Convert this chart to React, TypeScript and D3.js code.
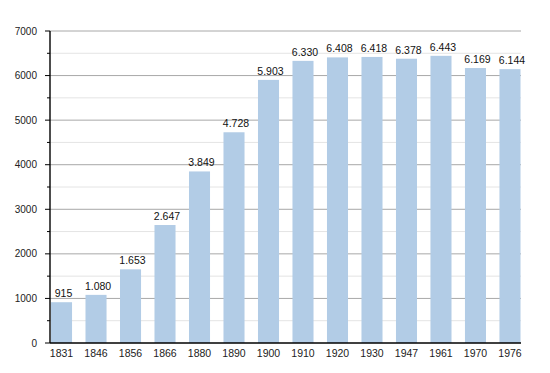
import React from "react";
import * as d3 from "d3";

// years and population counts
const years = ["1831", "1846", "1856", "1866", "1880", "1890", "1900", "1910", "1920", "1930", "1947", "1961", "1970", "1976"];
const population = [915, 1080, 1653, 2647, 3849, 4728, 5903, 6330, 6408, 6418, 6378, 6443, 6169, 6144];
const yMajorTicks = [0, 1000, 2000, 3000, 4000, 5000, 6000, 7000];
const yMinorTicks = [500, 1500, 2500, 3500, 4500, 5500, 6500];

export default function App() {
  const width = 550,
    height = 373;
  const left = 50,
    right = 521,
    top = 31,
    bottom = 343;

  const xScale = d3
    .scaleBand<string>()
    .domain(years)
    .range([51, 520.5])
    .paddingInner(0.39)
    .paddingOuter(0);

  const yScale = d3.scaleLinear().domain([0, 7000]).range([bottom, top]);

  // 1.653 style
  const fmt = (v: number) => d3.format(",")(v).replace(/,/g, ".");

  const font = "Liberation Sans, Arial, sans-serif";

  return (
    <svg
      width={width}
      height={height}
      style={{ position: "absolute", left: 0, top: 0, background: "#fff" }}
      fontFamily={font}
    >
      {/* minor grid */}
      <g>
        {yMinorTicks.map((t) => (
          <g key={t}>
            <line x1={left} x2={right} y1={yScale(t)} y2={yScale(t)} stroke="#e4e4e4" />
            <line x1={left - 3} x2={left} y1={yScale(t)} y2={yScale(t)} stroke="#000" />
          </g>
        ))}
      </g>
      {/* major grid */}
      <g>
        {yMajorTicks.map((t) => (
          <g key={t}>
            {t > 0 && <line x1={left} x2={right} y1={yScale(t)} y2={yScale(t)} stroke="#a8a8a8" />}
            <line x1={left - 5} x2={left} y1={yScale(t)} y2={yScale(t)} stroke="#000" />
            <text
              x={left - 13}
              y={yScale(t)}
              textAnchor="end"
              dominantBaseline="central"
              fontSize="10"
              fill="#222"
            >
              {t}
            </text>
          </g>
        ))}
      </g>

      {/* bars */}
      <g>
        {population.map((v, i) => {
          const x = xScale(years[i])!;
          return (
            <g key={years[i]}>
              <rect
                x={x}
                y={yScale(v)}
                width={xScale.bandwidth()}
                height={bottom - yScale(v)}
                fill="#b2cce6"
              />
              <text
                x={x + xScale.bandwidth() / 2 + 2}
                y={yScale(v) - 5}
                textAnchor="middle"
                fontSize="10.5"
                fill="#111"
              >
                {fmt(v)}
              </text>
            </g>
          );
        })}
      </g>

      {/* axes */}
      <line x1={left} x2={left} y1={top} y2={bottom} stroke="#000" strokeWidth="1.4" />
      <line x1={left} x2={right} y1={bottom} y2={bottom} stroke="#000" strokeWidth="1.4" />
      <g>
        {years.map((y) => (
          <text
            key={y}
            x={xScale(y)! + xScale.bandwidth() / 2}
            y={bottom + 9.5}
            textAnchor="middle"
            dominantBaseline="central"
            fontSize="10.5"
            fill="#222"
          >
            {y}
          </text>
        ))}
      </g>
    </svg>
  );
}
